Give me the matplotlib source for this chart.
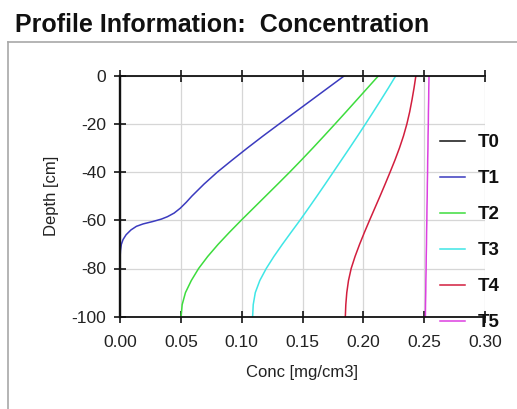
import matplotlib
matplotlib.use("Agg")
import matplotlib.pyplot as plt
from matplotlib.lines import Line2D

plt.rcParams['font.family'] = ['Liberation Sans', 'DejaVu Sans']
plt.rcParams['axes.unicode_minus'] = False

# depth grid (cm) shared by most profiles
depth = [0, -5, -10, -15, -20, -25, -30, -35, -40, -45, -50,
         -55, -60, -65, -70, -75, -80, -85, -90, -95, -100]

# T1 has a sharp knee, so it gets its own finer depth list
depth_t1 = [0, -5, -10, -15, -20, -25, -30, -35, -40, -45, -50, -52.5,
            -55, -57, -58.5, -59.5, -60.5, -61.5, -62.5, -64, -66, -68,
            -70, -72.5, -75, -80, -100]

conc_t0 = [0.0] * len(depth)
conc_t1 = [0.1845, 0.1711, 0.1577, 0.1443, 0.1309, 0.1176, 0.1047, 0.0922,
           0.0800, 0.0690, 0.0590, 0.0545, 0.0495, 0.0445, 0.0390, 0.0340,
           0.0270, 0.0190, 0.0135, 0.0090, 0.0050, 0.0025, 0.0011, 0.0004,
           0.0001, 0.0, 0.0]
conc_t2 = [0.2125, 0.2036, 0.1947, 0.1858, 0.1768, 0.1677, 0.1585, 0.1491,
           0.1395, 0.1296, 0.1196, 0.1096, 0.0996, 0.0899, 0.0806, 0.0721,
           0.0646, 0.0586, 0.0538, 0.0511, 0.0502]
conc_t3 = [0.2267, 0.2207, 0.2145, 0.2082, 0.2018, 0.1953, 0.1887, 0.1820,
           0.1753, 0.1686, 0.1618, 0.1549, 0.1479, 0.1406, 0.1334, 0.1265,
           0.1202, 0.1149, 0.1112, 0.1095, 0.1090]
conc_t4 = [0.2432, 0.2417, 0.2400, 0.2381, 0.2358, 0.2330, 0.2297, 0.2260,
           0.2220, 0.2179, 0.2137, 0.2094, 0.2051, 0.2009, 0.1969, 0.1932,
           0.1900, 0.1878, 0.1864, 0.1856, 0.1852]
conc_t5 = [0.2540, 0.2538, 0.2537, 0.2535, 0.2534, 0.2532, 0.2531, 0.2529,
           0.2528, 0.2526, 0.2525, 0.2523, 0.2522, 0.2520, 0.2519, 0.2517,
           0.2516, 0.2514, 0.2513, 0.2511, 0.2510]

labels = ['T0', 'T1', 'T2', 'T3', 'T4', 'T5']
colors = ['#111111', '#3b3bbf', '#3ddc3d', '#3fe6e6', '#d21e3e', '#dc3fe0']

xticks = [0.00, 0.05, 0.10, 0.15, 0.20, 0.25, 0.30]
yticks = [0, -20, -40, -60, -80, -100]

W, H = 517, 409
fig = plt.figure(figsize=(W / 100, H / 100), dpi=100)
ax = fig.add_axes([120 / W, 1 - 316.7 / H, 365 / W, 241 / H])

series = [(conc_t0, depth), (conc_t1, depth_t1), (conc_t2, depth),
          (conc_t3, depth), (conc_t4, depth), (conc_t5, depth)]
for (x, y), lab, col in zip(series, labels, colors):
    ax.plot(x, y, color=col, lw=1.1, label=lab)

ax.set_xlim(0, 0.30)
ax.set_ylim(-100, 0)
ax.set_xticks(xticks)
ax.set_yticks(yticks)
ax.set_xticklabels([f"{v:.2f}" for v in xticks])
ax.set_yticklabels([str(v) for v in yticks])

ax.grid(True, color='#d6d6d6', lw=0.9)
ax.set_axisbelow(True)

ax.spines['right'].set_visible(False)
ax.spines['left'].set_linewidth(1.7)
ax.spines['top'].set_linewidth(1.3)
ax.spines['bottom'].set_linewidth(1.3)
for s in ['left', 'top', 'bottom']:
    ax.spines[s].set_color('#111111')

ax.tick_params(axis='x', top=True, bottom=True, labeltop=False,
               direction='inout', length=8, width=1.1, pad=9,
               labelsize=12.5, labelcolor='#222222')
ax.tick_params(axis='y', left=True, direction='inout', length=8, width=1.1,
               pad=6, labelsize=12.5, labelcolor='#222222')

ax.set_xlabel('Conc [mg/cm3]', fontsize=12, color='#222222', labelpad=11)
ax.set_ylabel('Depth [cm]', fontsize=12, color='#222222', labelpad=9)

leg = ax.legend(loc='upper left', bbox_to_anchor=(440 / W, 1 - 134 / H),
                bbox_transform=fig.transFigure, frameon=False,
                prop={'size': 13.5, 'weight': 'bold'}, handlelength=1.35,
                handletextpad=0.65, labelspacing=1.01, borderpad=0,
                borderaxespad=0)
for t in leg.get_texts():
    t.set_color('#111111')

fig.text(15 / W, 1 - 32 / H, 'Profile Information:  Concentration',
         fontsize=18, fontweight='bold', color='#111111', va='baseline')

# panel frame
fig.add_artist(Line2D([8 / W, 1], [1 - 42 / H, 1 - 42 / H],
                      transform=fig.transFigure, color='#a8a8a8', lw=1.2))
fig.add_artist(Line2D([8 / W, 8 / W], [1 - 42 / H, 0],
                      transform=fig.transFigure, color='#a8a8a8', lw=1.2))

fig.savefig('out.png', dpi=100)
